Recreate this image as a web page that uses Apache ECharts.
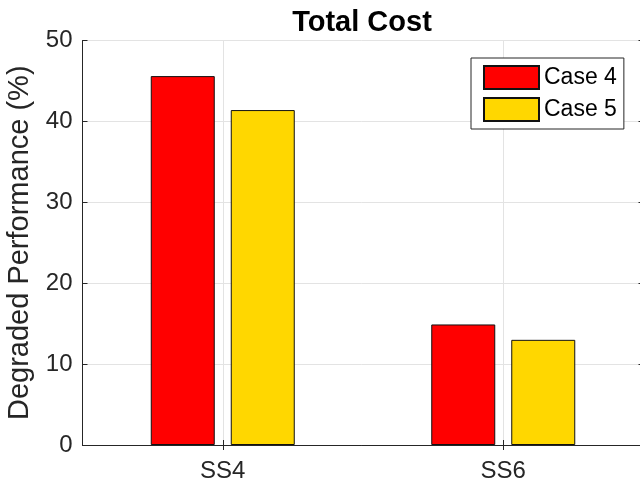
<!DOCTYPE html>
<html>
<head>
<meta charset="utf-8">
<style>
  html, body { margin: 0; padding: 0; background: #fff; }
  #chart { width: 640px; height: 487px; }
</style>
<script src="https://cdn.jsdelivr.net/npm/echarts@6/dist/echarts.min.js"></script>
</head>
<body>
<div id="chart"></div>
<script>
// Degraded performance per substation for two cases
const categories = ['SS4', 'SS6'];
const case4 = [45.6, 14.9];
const case5 = [41.4, 13.0];
const seriesNames = ['Case 4', 'Case 5'];
const yMin = 0, yMax = 50, yStep = 10;

const FONT = '"Liberation Sans", Arial, Helvetica, sans-serif';
const AXIS = '#262626';
const GRID = '#e3e3e3';

const chart = echarts.init(document.getElementById('chart'), null, { renderer: 'canvas' });

const catAxisBase = {
  type: 'category',
  data: categories,
  boundaryGap: true,
  axisLine: { show: true, lineStyle: { color: AXIS, width: 1 } },
  axisTick: { show: true, inside: true, length: 5, alignWithLabel: true, lineStyle: { color: AXIS } }
};

const valAxisBase = {
  type: 'value',
  min: yMin, max: yMax, interval: yStep,
  axisLine: { show: true, lineStyle: { color: AXIS, width: 1 } },
  axisTick: { show: true, inside: true, length: 5, lineStyle: { color: AXIS } }
};

chart.setOption({
  animation: false,
  backgroundColor: '#fff',
  textStyle: { fontFamily: FONT },
  title: {
    text: 'Total Cost',
    left: 357, top: 3,
    textAlign: 'center',
    textStyle: { fontFamily: FONT, fontSize: 29, fontWeight: 'bold', color: '#000' }
  },
  // the plot box runs a few pixels past the right edge of the canvas
  grid: { left: 82.5, top: 40.5, width: 561, height: 404.5, containLabel: false, outerBoundsMode: 'none' },
  legend: {
    data: seriesNames,
    orient: 'vertical',
    left: 471, top: 58,
    padding: [7, 7, 7, 12],
    itemGap: 7,
    itemWidth: 55, itemHeight: 23,
    icon: 'rect',
    backgroundColor: '#fff',
    borderColor: AXIS, borderWidth: 1, borderRadius: 0,
    textStyle: { fontFamily: FONT, fontSize: 23, color: '#000', lineHeight: 23, padding: [0, 0, 0, 0] }
  },
  xAxis: [
    Object.assign({}, catAxisBase, {
      position: 'bottom',
      axisLabel: { show: true, fontFamily: FONT, fontSize: 24, color: AXIS, margin: 14 },
      splitLine: { show: true, alignWithLabel: true, lineStyle: { color: GRID, width: 1 } }
    }),
    Object.assign({}, catAxisBase, {
      position: 'top',
      axisLabel: { show: false },
      splitLine: { show: false }
    })
  ],
  yAxis: [
    Object.assign({}, valAxisBase, {
      position: 'left',
      name: 'Degraded Performance (%)',
      nameLocation: 'middle',
      nameGap: 46,
      nameTextStyle: { fontFamily: FONT, fontSize: 29, color: AXIS },
      axisLabel: { fontFamily: FONT, fontSize: 24, color: AXIS, margin: 10 },
      splitLine: { show: true, lineStyle: { color: GRID, width: 1 } }
    }),
    Object.assign({}, valAxisBase, {
      position: 'right',
      axisLabel: { show: false },
      splitLine: { show: false }
    })
  ],
  series: [
    {
      name: seriesNames[0], type: 'bar', data: case4,
      xAxisIndex: 0, yAxisIndex: 0,
      barWidth: 64, barGap: '25%',
      itemStyle: { color: '#ff0000', borderColor: '#111', borderWidth: 1 }
    },
    {
      name: seriesNames[1], type: 'bar', data: case5,
      xAxisIndex: 0, yAxisIndex: 0,
      barWidth: 64, barGap: '25%',
      itemStyle: { color: '#ffd700', borderColor: '#111', borderWidth: 1 }
    }
  ]
});
</script>
</body>
</html>
